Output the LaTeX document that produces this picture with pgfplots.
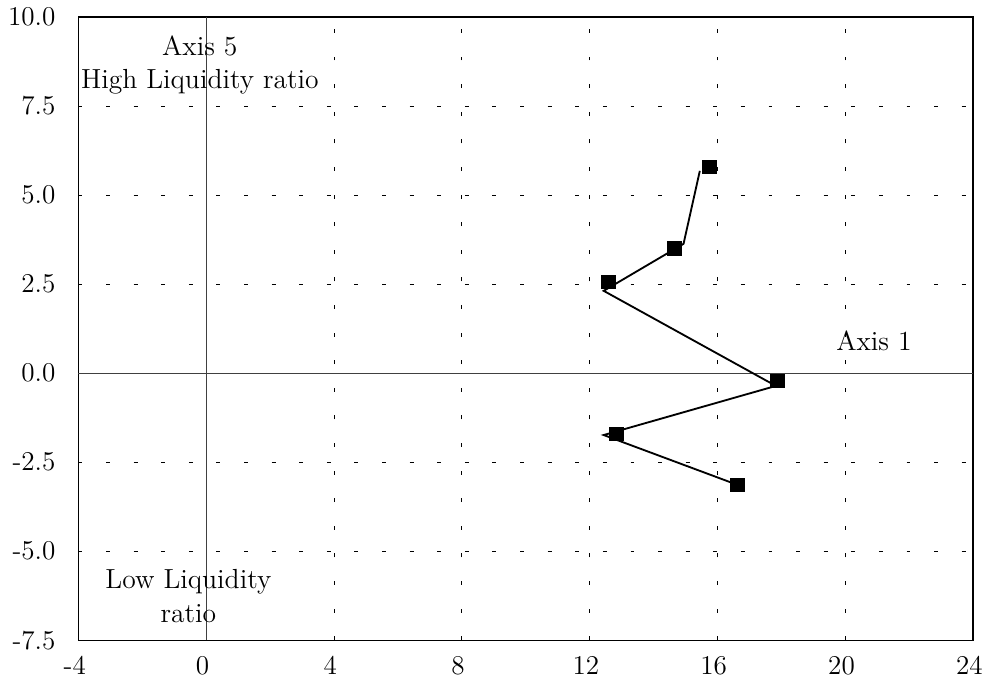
\documentclass[border=0pt]{standalone}
\usepackage{pgfplots}
\pgfplotsset{compat=1.18}
\begin{document}
\begin{tikzpicture}
\path[use as bounding box] (-34.1pt,-20.9pt) rectangle (393.25pt,278.3pt);
\begin{axis}[
  at={(0pt,0pt)}, anchor=south west,
  scale only axis,
  width=388.9pt, height=270.9pt,
  xmin=-4, xmax=24, ymin=-7.5, ymax=10,
  xtick={-4,0,4,8,12,16,20,24},
  xticklabels={-4,0,4,8,12,16,20,24},
  ytick={-7.5,-5,-2.5,0,2.5,5,7.5,10},
  yticklabels={-7.5,-5.0,-2.5,0.0,2.5,5.0,7.5,10.0},
  tick label style={font=\fontsize{11.8}{14}\selectfont},
  major tick length=0pt,
  grid=major,
  major grid style={black, line width=0.4pt, dash pattern=on 1.7pt off 10.3pt},
  yticklabel style={xshift=-6.5pt},
  xticklabel style={yshift=-3.4pt, xshift=-1.6pt},
  axis line style={line width=0.5pt},
  clip=false,
]
\draw[black!75, line width=0.5pt] (axis cs:0,-7.5) -- (axis cs:0,10);
\draw[black!75, line width=0.5pt] (axis cs:-4,0) -- (axis cs:24,0);
\addplot[black, line width=0.8pt, no marks] coordinates {
  (15.45,5.68) (14.94,3.63) (12.44,2.31) (17.83,-0.36) (12.44,-1.74) (16.63,-3.14)
};
\addplot[only marks, mark=square*, mark size=3pt, black] coordinates {
  (15.76,5.79) (14.66,3.51) (12.59,2.56) (17.89,-0.22) (12.84,-1.71) (16.63,-3.14)
};
\node[align=center, font=\fontsize{12}{14.5}\selectfont] at (axis cs:-0.2,8.65) {Axis 5\\High Liquidity ratio};
\node[align=center, font=\fontsize{12}{14.5}\selectfont] at (axis cs:-0.56,-6.26) {Low Liquidity\\ratio};
\node[font=\fontsize{12}{14.5}\selectfont] at (axis cs:20.9,0.9) {Axis 1};
\end{axis}
\end{tikzpicture}
\end{document}
